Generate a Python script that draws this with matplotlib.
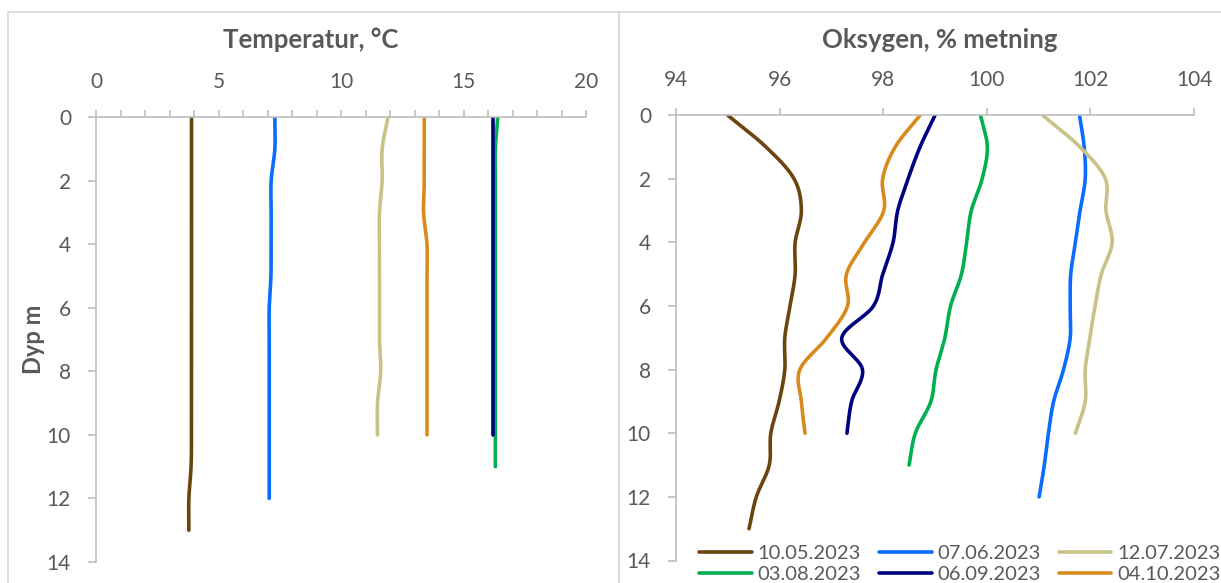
import matplotlib
matplotlib.use('Agg')
import numpy as np
import matplotlib.pyplot as plt
from matplotlib import rcParams
from matplotlib.patches import Rectangle
from matplotlib.ticker import MultipleLocator

params = {
    'font.family': ['Lato', 'DejaVu Sans'],
    'font.size': 15,
    'xtick.labelsize': 15,
    'ytick.labelsize': 15,
    'xtick.color': '#bfbfbf',
    'ytick.color': '#bfbfbf',
    'xtick.labelcolor': '#595959',
    'ytick.labelcolor': '#595959',
}
rcParams.update(params)

dates = ["10.05.2023", "07.06.2023", "12.07.2023", "03.08.2023", "06.09.2023", "04.10.2023"]
colors = ['#6b4410', '#0a6cff', '#c8c287', '#00b050', '#000080', '#d98a1c']

# temperature (degC) per metre from the surface
temp_1005 = [3.9, 3.9, 3.9, 3.9, 3.9, 3.9, 3.9, 3.9, 3.9, 3.9, 3.9, 3.88, 3.79, 3.79]
temp_0706 = [7.3, 7.3, 7.15, 7.15, 7.15, 7.14, 7.07, 7.07, 7.07, 7.07, 7.07, 7.07, 7.07]
temp_1207 = [11.92, 11.68, 11.68, 11.57, 11.57, 11.57, 11.57, 11.57, 11.62, 11.49, 11.49]
temp_0308 = [16.4, 16.3, 16.3, 16.3, 16.3, 16.3, 16.3, 16.3, 16.3, 16.3, 16.3, 16.3]
temp_0609 = [16.2, 16.2, 16.2, 16.2, 16.2, 16.2, 16.2, 16.2, 16.2, 16.2, 16.2]
temp_0410 = [13.4, 13.4, 13.4, 13.37, 13.51, 13.51, 13.51, 13.51, 13.51, 13.51, 13.51]

# oxygen (% saturation) per metre from the surface
oxy_1005 = [95.0, 95.74, 96.28, 96.42, 96.30, 96.30, 96.20, 96.10, 96.10, 95.99, 95.83, 95.80, 95.55, 95.41]
oxy_0706 = [101.79, 101.88, 101.90, 101.80, 101.71, 101.62, 101.61, 101.61, 101.48, 101.29, 101.19, 101.11, 101.01]
oxy_1207 = [101.08, 101.80, 102.29, 102.30, 102.42, 102.21, 102.09, 101.99, 101.90, 101.90, 101.71]
oxy_0308 = [99.88, 100.01, 99.91, 99.70, 99.61, 99.51, 99.30, 99.19, 99.02, 98.92, 98.62, 98.50]
oxy_0609 = [99.0, 98.71, 98.48, 98.28, 98.19, 97.99, 97.81, 97.20, 97.60, 97.39, 97.30]
oxy_0410 = [98.71, 98.23, 97.99, 98.01, 97.64, 97.29, 97.31, 96.91, 96.39, 96.42, 96.49]

temps = [temp_1005, temp_0706, temp_1207, temp_0308, temp_0609, temp_0410]
oxys = [oxy_1005, oxy_0706, oxy_1207, oxy_0308, oxy_0609, oxy_0410]


# smooth curve through the profile points (cubic hermite, catmull-rom tangents)
def smooth(vals, n=20):
    v = np.array(vals, dtype=float)
    d = np.arange(len(v), dtype=float)
    m = np.gradient(v)
    xs, ys = [], []
    for i in range(len(v) - 1):
        t = np.linspace(0, 1, n, endpoint=(i == len(v) - 2))
        h00 = 2 * t**3 - 3 * t**2 + 1
        h10 = t**3 - 2 * t**2 + t
        h01 = -2 * t**3 + 3 * t**2
        h11 = t**3 - t**2
        xs.append(h00 * v[i] + h10 * m[i] + h01 * v[i + 1] + h11 * m[i + 1])
        ys.append(d[i] + t)
    return np.concatenate(xs), np.concatenate(ys)


def style_axis(ax):
    ax.xaxis.tick_top()
    for s in ['right', 'bottom']:
        ax.spines[s].set_visible(False)
    for s in ['top', 'left']:
        ax.spines[s].set_color('#bfbfbf')
        ax.spines[s].set_linewidth(1.2)
    ax.tick_params(axis='x', which='both', direction='out', length=5, width=1.2, pad=13)
    ax.tick_params(axis='y', which='both', direction='out', length=6, width=1.2, pad=12)
    ax.set_ylim(14, 0)
    ax.yaxis.set_major_locator(MultipleLocator(2))


fig = plt.figure(figsize=(12.21, 5.83), dpi=100)

# chart area borders
fig.patches.append(Rectangle((8 / 1221, -0.1), 611 / 1221, 1.1 - 12 / 583, transform=fig.transFigure,
                             fill=False, edgecolor='#d9d9d9', linewidth=1.2))
fig.patches.append(Rectangle((619 / 1221, -0.1), 0.6, 1.1 - 12 / 583, transform=fig.transFigure,
                             fill=False, edgecolor='#d9d9d9', linewidth=1.2))

ax1 = fig.add_axes([96 / 1221, 1 - 562 / 583, 490 / 1221, 445 / 583])
ax2 = fig.add_axes([676 / 1221, 1 - 560.5 / 583, 518 / 1221, 445.2 / 583])

for vals, c in zip(temps, colors):
    x, y = smooth(vals)
    ax1.plot(x, y, color=c, linewidth=2.6, solid_capstyle='round')
handles = {}
for vals, c, lab in zip(oxys, colors, dates):
    x, y = smooth(vals)
    h, = ax2.plot(x, y, color=c, linewidth=2.6, solid_capstyle='round', label=lab)
    handles[lab] = h

style_axis(ax1)
ax1.set_xlim(0, 20)
ax1.xaxis.set_major_locator(MultipleLocator(5))
ax1.xaxis.set_minor_locator(MultipleLocator(1))
ax1.set_ylabel("Dyp m", fontsize=17, fontweight='bold', color='#595959', labelpad=1)

style_axis(ax2)
ax2.set_xlim(94, 104)
ax2.xaxis.set_major_locator(MultipleLocator(2))

fig.text(311 / 1221, 1 - 40 / 583, "Temperatur, °C", ha='center', va='center',
         fontsize=18.5, fontweight='bold', color='#595959')
fig.text(940 / 1221, 1 - 40 / 583, "Oksygen, % metning", ha='center', va='center',
         fontsize=18.5, fontweight='bold', color='#595959')

# legend is filled column by column, so order entries to read row-wise
order = [dates[0], dates[3], dates[1], dates[4], dates[2], dates[5]]
leg = fig.legend([handles[d] for d in order], order, loc='center',
                 bbox_to_anchor=(960 / 1221, 1 - 564 / 583),
                 ncol=3, frameon=False, handlelength=2.6, handletextpad=0.3,
                 columnspacing=0.9, labelspacing=0.2, fontsize=14.5, borderpad=0)
for t in leg.get_texts():
    t.set_color('#595959')

plt.savefig('out.png', dpi=100)
